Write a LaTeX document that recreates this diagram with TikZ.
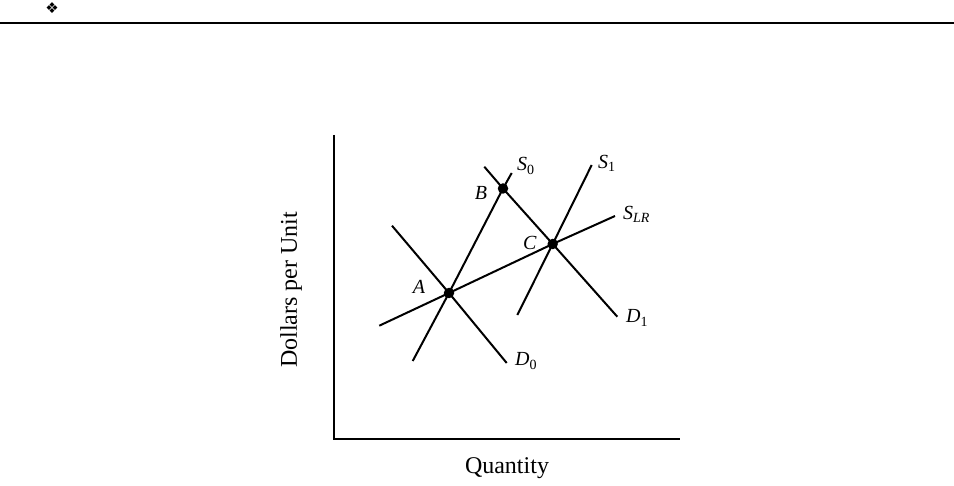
\documentclass[tikz,border=0pt]{standalone}
\usepackage{fontspec}
\setmainfont{Liberation Serif}
\newfontfamily\symfont{DejaVu Sans}
\newcommand\curvelab[2]{\textit{#1}\raisebox{-0.35ex}{\fontsize{14}{14}\selectfont #2}}
\begin{document}
\begin{tikzpicture}[x=1pt,y=-1pt,
  curve/.style={line width=2pt},
  axisline/.style={line width=2.8pt},
  rule/.style={line width=1.4pt},
  dot/.style={circle,fill=black,inner sep=0pt,minimum size=10.5pt},
  lab/.style={inner sep=0pt,font=\fontsize{20}{23}\selectfont},
  axlab/.style={inner sep=0pt,font=\fontsize{24}{28}\selectfont}]
\useasboundingbox (0,0) rectangle (954,486);
% header
\coordinate (rl) at (0,23);
\coordinate (rr) at (954,23);
\draw[rule] (rl) -- (rr);
\node[inner sep=0pt,font=\symfont\fontsize{15}{15}\selectfont] (orn) at (52,8.5) {❖};
% axes
\coordinate (ytop) at (334,135);
\coordinate (orig) at (334,439);
\coordinate (xend) at (680,439);
\draw[axisline] (ytop) -- (orig) -- (xend);
\node[axlab] (xlab) at (507,468) {Quantity};
\node[axlab,rotate=90] (ylab) at (291,290) {Dollars per Unit};
% equilibrium points
\coordinate (A) at (449,293);
\coordinate (B) at (503,188.5);
\coordinate (C) at (552.7,244);
% curve end points
\coordinate (s0a) at (412.7,361);
\coordinate (s0b) at (511.7,173);
\coordinate (d0a) at (392,225.7);
\coordinate (d0b) at (506.7,363);
\coordinate (d1a) at (484.3,166.7);
\coordinate (d1b) at (617.3,316.7);
\coordinate (s1a) at (517.3,315);
\coordinate (s1b) at (591.7,165);
\coordinate (slra) at (379.3,325.7);
\coordinate (slrb) at (615,216);
\draw[curve] (s0a) -- (A) -- (B) -- (s0b);
\draw[curve] (d0a) -- (A) -- (d0b);
\draw[curve] (d1a) -- (B) -- (C) -- (d1b);
\draw[curve] (s1a) -- (C) -- (s1b);
\draw[curve] (slra) -- (A) -- (C) -- (slrb);
\node[dot] (dA) at (A) {};
\node[dot] (dB) at (B) {};
\node[dot] (dC) at (C) {};
% labels
\node[lab] (lA) at (419,287) {\textit{A}};
\node[lab] (lB) at (481,193) {\textit{B}};
\node[lab] (lC) at (530,243) {\textit{C}};
\node[lab,anchor=west] (lS0) at (517,166) {\curvelab{S}{0}};
\node[lab,anchor=west] (lS1) at (598,163) {\curvelab{S}{1}};
\node[lab,anchor=west] (lSLR) at (623,214) {\curvelab{S}{\textit{LR}}};
\node[lab,anchor=west] (lD1) at (626,318) {\curvelab{D}{1}};
\node[lab,anchor=west] (lD0) at (515,361) {\curvelab{D}{0}};
\end{tikzpicture}
\end{document}
